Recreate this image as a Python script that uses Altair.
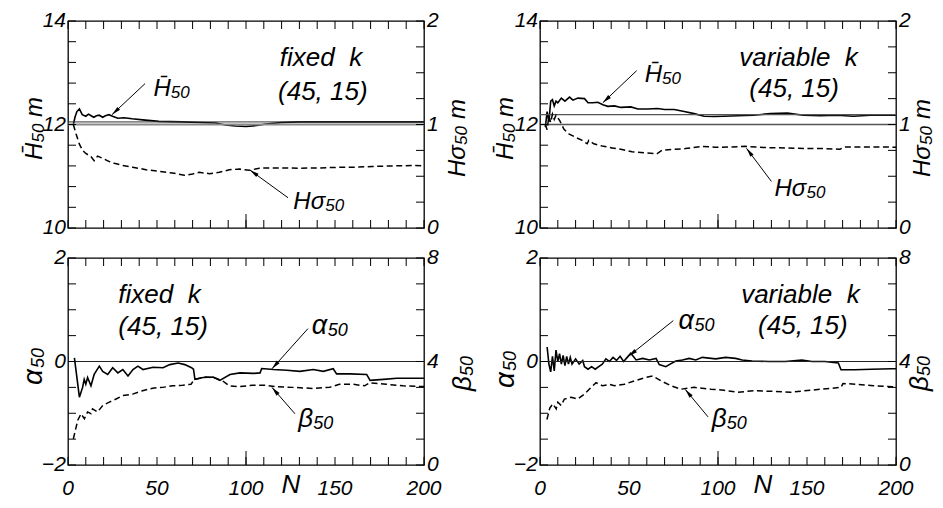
import math
import altair as alt
import pandas as pd

FONT = "Liberation Sans"
W = 356
HT_TOP = 207
HT_BOT = 207
TICK = 8

# ---------------- axes ----------------
X_DOMAIN = [0, 200]
X_LABELS = [0, 50, 100, 150, 200]
X_MINOR = [0, 10, 20, 30, 40, 50, 60, 70, 80, 90, 100, 110, 120, 130, 140, 150, 160, 170, 180, 190, 200]
X_MAJOR = [100]

H_DOMAIN = [10, 14]
H_LABELS = [10, 12, 14]
H_TICKS = [10, 10.4, 10.8, 11.2, 11.6, 12, 12.4, 12.8, 13.2, 13.6, 14]
S_DOMAIN = [0, 2]
S_LABELS = [0, 1, 2]
S_TICKS = [0, 0.25, 0.5, 0.75, 1, 1.25, 1.5, 1.75, 2]
A_DOMAIN = [-2, 2]
A_LABELS = [-2, 0, 2]
A_TICKS = [-2, -1.5, -1, -0.5, 0, 0.5, 1, 1.5, 2]
B_DOMAIN = [0, 8]
B_LABELS = [0, 4, 8]
B_TICKS = [0, 1, 2, 3, 4, 5, 6, 7, 8]

# ---------------- data: top-left (fixed k) ----------------
tl_hbar_N = [3, 4, 5, 6.4, 8, 10, 11.5, 13, 14.5, 16, 17.5, 19.5, 21, 23, 25, 28, 31.5, 36, 42, 51,
             64, 74, 83, 88.5, 94, 100, 106, 111, 120, 130, 149, 167, 186, 200]
tl_hbar_v = [12.0, 12.15, 12.25, 12.30, 12.19, 12.16, 12.20, 12.17, 12.14, 12.17, 12.18, 12.14, 12.17,
             12.19, 12.16, 12.12, 12.13, 12.11, 12.09, 12.06, 12.05, 12.04, 12.03, 11.99, 11.97, 11.96,
             11.98, 12.01, 12.04, 12.05, 12.05, 12.05, 12.05, 12.05]
tl_hsig_N = [3, 4.5, 6.4, 8.2, 10, 12.9, 14.7, 16.6, 19.5, 23.2, 26, 30.7, 36.3, 43.8, 51.3, 58.8, 65.4,
             70, 73.7, 79.4, 85, 90.6, 96.3, 101.9, 107.5, 115, 130, 141, 149, 162, 171, 182.5, 194, 200]
tl_hsig_v = [1.0, 0.91, 0.81, 0.75, 0.72, 0.69, 0.65, 0.695, 0.673, 0.642, 0.626, 0.604, 0.588, 0.563,
             0.547, 0.531, 0.509, 0.522, 0.538, 0.525, 0.538, 0.563, 0.569, 0.557, 0.578, 0.58, 0.578,
             0.58, 0.585, 0.588, 0.594, 0.6, 0.604, 0.6]
tl_refs = [12.0, 12.05]

# ---------------- data: top-right (variable k) ----------------
tr_hbar_N = [3, 4, 5, 6, 7, 8, 9, 10, 12, 14, 16.6, 18.5, 21.3, 25, 27, 29.7, 32.5, 35.3, 38.1, 41.8,
             45.5, 51, 55, 60.5, 66, 70, 75.4, 81, 86.6, 92.2, 97.8, 103.4, 111, 120, 129.5, 139, 148,
             157.5, 167, 176, 185.6, 197.7, 200]
tr_hbar_v = [11.95, 12.25, 12.05, 12.45, 12.48, 12.36, 12.45, 12.42, 12.51, 12.45, 12.53, 12.47, 12.51,
             12.50, 12.42, 12.42, 12.43, 12.38, 12.35, 12.36, 12.33, 12.34, 12.30, 12.30, 12.31, 12.29,
             12.29, 12.25, 12.21, 12.16, 12.155, 12.16, 12.17, 12.18, 12.21, 12.22, 12.18, 12.17, 12.18,
             12.16, 12.18, 12.18, 12.18]
tr_hsig_N = [3, 4, 5, 6, 7, 8, 9, 11, 13.4, 16.2, 19.9, 23.7, 26.5, 27.4, 30.2, 34.9, 40.5, 46.1, 51.7,
             59.2, 65.7, 68.5, 74.1, 81.6, 90.9, 98.4, 107.7, 115.2, 126.4, 137.6, 148.8, 160, 168.5,
             171.3, 182.5, 195.6, 200]
tr_hsig_v = [1.0, 0.95, 1.08, 1.02, 1.10, 1.05, 1.09, 1.04, 0.956, 0.909, 0.877, 0.846, 0.814, 0.846,
             0.814, 0.792, 0.774, 0.758, 0.736, 0.726, 0.717, 0.752, 0.758, 0.767, 0.789, 0.78, 0.783,
             0.789, 0.777, 0.774, 0.767, 0.767, 0.761, 0.783, 0.783, 0.783, 0.78]
tr_refs = [12.0, 12.19]

# ---------------- data: bottom-left (fixed k) ----------------
bl_alpha_N = [3.6, 6.4, 8.2, 9.1, 10, 11, 12.9, 14.7, 17.6, 19.5, 22.3, 25.1, 28, 30.8, 33.7, 36.5, 39.3,
              42.1, 47.8, 53.4, 57.2, 61.9, 65.6, 69.4, 70.5, 71.3, 75.9, 81.6, 85.3, 91, 96.6, 104.1,
              107.9, 108.8, 115.4, 122.9, 130.3, 137.8, 143.4, 149, 150.9, 158.4, 167.8, 169.7, 177.2,
              184.7, 200]
bl_alpha_v = [0.07, -0.69, -0.50, -0.345, -0.44, -0.31, -0.47, -0.25, -0.09, -0.19, -0.25, -0.12, -0.22,
              -0.155, -0.28, -0.155, -0.09, -0.155, -0.11, -0.12, -0.06, -0.03, -0.06, -0.12, -0.15,
              -0.345, -0.31, -0.30, -0.365, -0.25, -0.22, -0.23, -0.22, -0.135, -0.155, -0.17, -0.19,
              -0.155, -0.19, -0.14, -0.24, -0.24, -0.25, -0.365, -0.345, -0.325, -0.325]
bl_beta_N = [3, 5.5, 7.3, 9.2, 11, 12.9, 13.8, 16.6, 19.5, 23.2, 27, 30.7, 36.3, 41.9, 47.6, 53.2, 58.8,
             64.5, 69.1, 71, 77.5, 83.1, 86.9, 90.6, 96.3, 103.8, 111.2, 116.9, 126.2, 137.5, 146.9,
             152.5, 160, 166.6, 169.4, 178.8, 188.2, 200]
bl_beta_v = [1.01, 1.73, 1.98, 1.79, 2.05, 1.98, 2.17, 2.05, 2.30, 2.43, 2.55, 2.68, 2.74, 2.87, 2.97,
             3.0, 3.06, 3.08, 3.12, 3.31, 3.40, 3.35, 3.25, 3.06, 3.03, 3.08, 3.08, 3.03, 3.0, 2.96, 3.0,
             3.12, 3.12, 3.06, 3.18, 3.12, 3.06, 3.03]
bl_refs = [0.0]

# ---------------- data: bottom-right (variable k) ----------------
br_alpha_N = [4, 5, 6, 7, 8, 9, 10, 11, 12, 13, 14, 15, 16, 17, 18, 20, 22, 24, 25, 27, 29, 31, 33, 35,
              37, 39, 41, 43, 45, 47, 49, 51, 54, 57.7, 61.4, 65.2, 67, 70.7, 72.6, 76.3, 80, 83.8, 87.5,
              91.2, 98.7, 104.3, 109.9, 113.6, 119.2, 128.5, 137.8, 147.1, 152.7, 160.1, 167.6, 169.1,
              176.9, 186.3, 197.5, 200]
br_alpha_v = [0.28, -0.05, -0.2, 0.1, -0.18, 0.22, 0.0, 0.15, -0.05, 0.12, -0.08, 0.1, -0.05, 0.08,
              -0.05, 0.05, -0.05, 0.02, -0.1, -0.15, -0.1, -0.15, -0.1, -0.05, 0.05, 0.0, 0.08, 0.02,
              0.1, 0.0, 0.08, 0.16, 0.03, 0.06, 0.03, 0.06, -0.06, -0.1, -0.06, 0.01, 0.03, 0.06, 0.03,
              0.08, 0.05, 0.08, 0.06, 0.03, 0.01, 0.0, 0.0, 0.03, 0.0, 0.0, -0.03, -0.16, -0.16, -0.15,
              -0.14, -0.14]
br_beta_N = [3.9, 5.5, 7.2, 9.1, 10, 11.9, 13.7, 17.5, 21.2, 25, 28.7, 31.5, 35.2, 39, 41.8, 47.4, 53,
             58.7, 63.3, 68, 73.6, 79.2, 86.6, 96, 103.4, 110.9, 120.2, 129.5, 140.7, 151.9, 163.1,
             169.1, 170.2, 178, 187.4, 200]
br_beta_v = [1.76, 2.2, 2.36, 2.17, 2.43, 2.30, 2.55, 2.62, 2.55, 2.74, 3.0, 3.18, 3.06, 3.12, 3.06,
             3.12, 3.25, 3.37, 3.44, 3.25, 3.06, 2.93, 3.0, 2.93, 2.89, 2.81, 2.87, 2.85, 2.81, 2.89,
             2.96, 3.0, 3.15, 3.12, 3.06, 3.02]
br_refs = [0.0]

# ---------------- text ----------------
SUB = "50"
HBAR = "H\u0304"
HSIG = "H\u03c3"
ALPHA = "\u03b1"
BETA = "\u03b2"
FIXED = "fixed\u00a0\u00a0k"
VARIABLE = "variable\u00a0\u00a0k"
PARAMS = "(45, 15)"
N_TITLE = "N"

HEAD = "M0,0L0.5,2.3L-0.5,2.3Z"
LAB = dict(font=FONT, fontStyle="italic", fontSize=21, color="black")


def xq(field="N"):
    return alt.X(f"{field}:Q", scale=alt.Scale(domain=X_DOMAIN, nice=False, zero=False), axis=None)


def yq(dom, field="v"):
    return alt.Y(f"{field}:Q", scale=alt.Scale(domain=dom, nice=False, zero=False), axis=None)


def curve(n, v, dom, dashed):
    df = pd.DataFrame({"N": n, "v": v})
    if dashed:
        mk = alt.Chart(df).mark_line(color="black", strokeWidth=1.5, strokeDash=[6, 3.5])
    else:
        mk = alt.Chart(df).mark_line(color="black", strokeWidth=1.6)
    return mk.encode(x=xq(), y=yq(dom))


def hline(val, dom, color, width):
    return alt.Chart(pd.DataFrame({"v": [val]})).mark_rule(color=color, strokeWidth=width).encode(y=yq(dom))


def yticks(vals, dom, side):
    df = pd.DataFrame({"v": vals})
    x0, x1 = (0, TICK) if side == "left" else (W, W - TICK)
    return alt.Chart(df).mark_rule(color="black", strokeWidth=1).encode(
        y=yq(dom), x=alt.value(x0), x2=alt.value(x1))


def xticks(vals, y0, y1):
    df = pd.DataFrame({"N": vals})
    return alt.Chart(df).mark_rule(color="black", strokeWidth=1).encode(
        x=xq(), y=alt.value(y0), y2=alt.value(y1))


def ylabels(vals, dom, side):
    df = pd.DataFrame({"v": vals})
    if side == "left":
        mk = alt.Chart(df).mark_text(align="right", baseline="middle", dx=-2, **LAB)
        xv = 0
    else:
        mk = alt.Chart(df).mark_text(align="left", baseline="middle", dx=3, **LAB)
        xv = W
    return mk.encode(x=alt.value(xv), y=yq(dom), text=alt.Text("v:Q", format="d"))


def xlabels(vals, h):
    df = pd.DataFrame({"N": vals})
    return alt.Chart(df).mark_text(align="center", baseline="alphabetic", **LAB).encode(
        x=xq(), y=alt.value(h + 30), text=alt.Text("N:Q", format="d"))


def rich(pieces, pos, dom=None, angle=0, align="left"):
    out = []
    for t, size, dx, dy in pieces:
        if dom is None:
            df = pd.DataFrame({"k": [0]})
            enc = dict(x=alt.value(pos[0]), y=alt.value(pos[1]))
        else:
            df = pd.DataFrame({"N": [pos[0]], "v": [pos[1]]})
            enc = dict(x=xq(), y=yq(dom))
        out.append(alt.Chart(df).mark_text(
            align=align, baseline="alphabetic", font=FONT, fontStyle="italic", fontSize=size,
            dx=dx, dy=dy, angle=angle, color="black").encode(text=alt.value(t), **enc))
    return out


def arrow(a, dom, h):
    n0, v0, n1, v1 = a
    df = pd.DataFrame({"N": [n0], "v": [v0], "N2": [n1], "v2": [v1]})
    line = alt.Chart(df).mark_rule(color="black", strokeWidth=1).encode(
        x=xq(), y=yq(dom), x2="N2:Q", y2="v2:Q")
    sx = W / (X_DOMAIN[1] - X_DOMAIN[0])
    sy = h / (dom[1] - dom[0])
    ddx = (n1 - n0) * sx
    ddy = -(v1 - v0) * sy
    ang = math.degrees(math.atan2(ddx, -ddy)) % 360
    head = alt.Chart(df).mark_point(shape=HEAD, filled=True, size=64, angle=ang, color="black",
                                    opacity=1, strokeWidth=0).encode(x=xq("N2"), y=yq(dom, "v2"))
    return [line, head]


def panel(cfg):
    ldom, rdom, h = cfg["ldom"], cfg["rdom"], cfg["h"]
    left = [curve(cfg["lN"], cfg["lv"], ldom, False)]
    for val, col, wd in cfg["refs"]:
        left.append(hline(val, ldom, col, wd))
    left += [yticks(cfg["lticks"], ldom, "left"),
             xticks(X_MINOR, 0, TICK), xticks(X_MINOR, h, h - TICK),
             xticks(X_MAJOR, h, h - 14),
             ylabels(cfg["llabels"], ldom, "left")]
    if cfg["bottom"]:
        left.append(xlabels(X_LABELS, h))
        left += rich([(N_TITLE, 26, 0, 0)], (223, h + 28), None, 0, "center")
    for pieces, pos in cfg["texts"]:
        left += rich(pieces, pos, ldom)
    for a in cfg["arrows"]:
        left += arrow(a, ldom, h)
    for pieces, pos in cfg["titles"]:
        left += rich(pieces, pos, None, 270)
    right = [curve(cfg["rN"], cfg["rv"], rdom, True),
             yticks(cfg["rticks"], rdom, "right"),
             ylabels(cfg["rlabels"], rdom, "right")]
    return alt.layer(alt.layer(*left), alt.layer(*right)).resolve_scale(y="independent").properties(
        width=W, height=h)


def hbar_pieces(main, sub):
    return [(HBAR, main, 0, 0), (SUB, sub, 0.72 * main, 2)]


tl = panel(dict(
    h=HT_TOP, ldom=H_DOMAIN, rdom=S_DOMAIN, llabels=H_LABELS, rlabels=S_LABELS, lticks=H_TICKS,
    rticks=S_TICKS, lN=tl_hbar_N, lv=tl_hbar_v, rN=tl_hsig_N, rv=tl_hsig_v, bottom=False,
    refs=[(tl_refs[0], "#8a8a8a", 2), (tl_refs[1], "#333333", 1)],
    texts=[([(FIXED, 26, 0, 0)], (119, 13.13)),
           ([(PARAMS, 26, 0, 0)], (118, 12.47)),
           (hbar_pieces(24, 17), (48, 12.55)),
           ([(HSIG, 24, 0, 0), (SUB, 17, 32, 2)], (126.6, 10.37))],
    arrows=[(43.3, 12.79, 24.7, 12.19), (123.6, 10.585, 102.2, 11.12)],
    titles=[([(HBAR, 24, 0, 0), (SUB, 17, 17.5, 2), ("m", 24, 43, 0)], (-26, 139)),
            ([(HSIG, 24, 0, 0), (SUB, 17, 32, 2), ("m", 24, 58, 0)], (W + 41, 156))],
))

tr = panel(dict(
    h=HT_TOP, ldom=H_DOMAIN, rdom=S_DOMAIN, llabels=H_LABELS, rlabels=S_LABELS, lticks=H_TICKS,
    rticks=S_TICKS, lN=tr_hbar_N, lv=tr_hbar_v, rN=tr_hsig_N, rv=tr_hsig_v, bottom=False,
    refs=[(tr_refs[0], "#555555", 1.4), (tr_refs[1], "#555555", 1.4)],
    texts=[([(VARIABLE, 26, 0, 0)], (112, 13.14)),
           ([(PARAMS, 26, 0, 0)], (117.6, 12.54)),
           (hbar_pieces(24, 17), (58.8, 12.82)),
           ([(HSIG, 24, 0, 0), (SUB, 17, 32, 2)], (131.7, 10.62))],
    arrows=[(54.3, 13.04, 35.3, 12.42), (130, 10.9, 116, 11.54)],
    titles=[([(HBAR, 24, 0, 0), (SUB, 17, 17.5, 2), ("m", 24, 43, 0)], (-27, 139)),
            ([(HSIG, 24, 0, 0), (SUB, 17, 32, 2), ("m", 24, 58, 0)], (W + 34, 156))],
))

bl = panel(dict(
    h=HT_BOT, ldom=A_DOMAIN, rdom=B_DOMAIN, llabels=A_LABELS, rlabels=B_LABELS, lticks=A_TICKS,
    rticks=B_TICKS, lN=bl_alpha_N, lv=bl_alpha_v, rN=bl_beta_N, rv=bl_beta_v, bottom=True,
    refs=[(bl_refs[0], "#222222", 1)],
    texts=[([(FIXED, 26, 0, 0)], (28.3, 1.14)),
           ([(PARAMS, 26, 0, 0)], (28.3, 0.51)),
           ([(ALPHA, 27, 0, 0), (SUB, 18, 16, 2)], (137, 0.54)),
           ([(BETA, 26, 0, 0), (SUB, 18, 15, 2)], (129.4, -1.26))],
    arrows=[(134.8, 0.635, 114.6, -0.14), (127.5, -1.01, 114.6, -0.5)],
    titles=[([(ALPHA, 28, 0, 0), (SUB, 18, 17, 2)], (-26, 127)),
            ([(BETA, 26, 0, 0), (SUB, 18, 15, 2)], (W + 47, 133))],
))

br = panel(dict(
    h=HT_BOT, ldom=A_DOMAIN, rdom=B_DOMAIN, llabels=A_LABELS, rlabels=B_LABELS, lticks=A_TICKS,
    rticks=B_TICKS, lN=br_alpha_N, lv=br_alpha_v, rN=br_beta_N, rv=br_beta_v, bottom=True,
    refs=[(br_refs[0], "#222222", 1)],
    texts=[([(VARIABLE, 26, 0, 0)], (113, 1.14)),
           ([(PARAMS, 26, 0, 0)], (122.5, 0.54)),
           ([(ALPHA, 27, 0, 0), (SUB, 18, 16, 2)], (77.8, 0.635)),
           ([(BETA, 26, 0, 0), (SUB, 18, 15, 2)], (96.5, -1.26))],
    arrows=[(74.9, 0.79, 49.7, 0.1), (94.4, -1.07, 81.6, -0.54)],
    titles=[([(ALPHA, 28, 0, 0), (SUB, 18, 17, 2)], (-26, 130)),
            ([(BETA, 26, 0, 0), (SUB, 18, 15, 2)], (W + 32, 133))],
))

chart = alt.concat(
    tl, tr, bl, br, columns=2, spacing={"row": 30, "column": 116}, bounds="flush"
).properties(
    padding={"left": 11, "top": 1, "right": -1, "bottom": 0}
).configure_view(stroke="black", strokeWidth=1.3)

chart.save("out.html", embed_options={"renderer": "svg", "actions": False})
